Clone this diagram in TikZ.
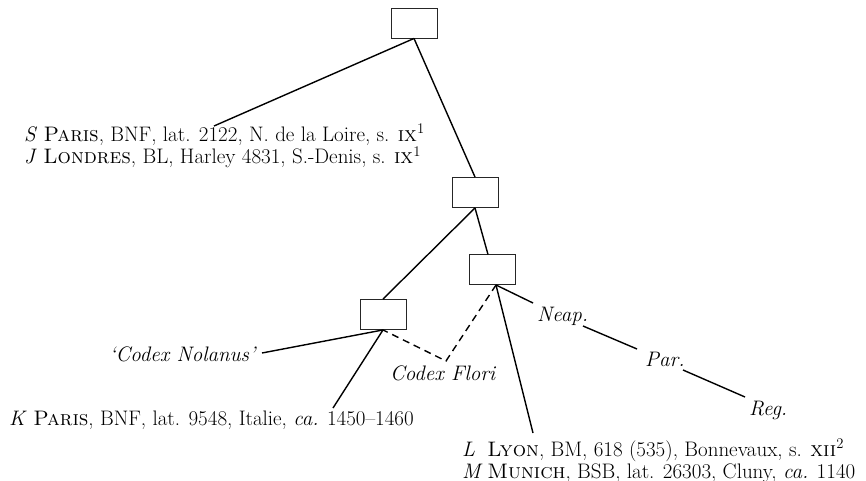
\documentclass[tikz,border=0pt]{standalone}
\usepackage{fontspec}
\begin{document}
\begin{tikzpicture}[x=1pt,y=-1pt,
  box/.style={draw=black!85, line width=0.9pt, minimum width=46pt, minimum height=30pt, inner sep=0pt},
  txt/.style={inner sep=0pt, font=\fontsize{21}{24}\selectfont},
  conn/.style={line width=1.4pt, black},
  dconn/.style={conn, dash pattern=on 7pt off 5pt}]
\useasboundingbox (0,0) rectangle (866,481);
% boxes
\node[box] (r) at (414,23) {};
\node[box] (a) at (475,192.5) {};
\node[box] (b) at (492.5,269.5) {};
\node[box] (c) at (383,314.5) {};
% texts
\node[txt, anchor=base west] (S) at (24,141.5) {\textit{S} \textsc{Paris}, BNF, lat. 2122, N. de la Loire, s. \textsc{ix}\textsuperscript{1}};
\node[txt, anchor=base west] (J) at (24,164) {\textit{J} \textsc{Londres}, BL, Harley 4831, S.-Denis, s. \textsc{ix}\textsuperscript{1}};
\node[txt, anchor=base west] (K) at (9,425) {\textit{K} \textsc{Paris}, BNF, lat. 9548, Italie, \textit{ca.} 1450--1460};
\node[txt, anchor=base east] (N) at (257,361.5) {\textit{`Codex Nolanus'}};
\node[txt, anchor=base west] (F) at (390,380) {\textit{Codex Flori}};
\node[txt, anchor=base west] (Ne) at (537,321.5) {\textit{Neap.}};
\node[txt, anchor=base west] (P) at (645,366.5) {\textit{Par.}};
\node[txt, anchor=base west] (R) at (749,415) {\textit{Reg.}};
\node[txt, anchor=base west] (L) at (462,456) {\makebox[1.2em][l]{\textit{L}}\textsc{Lyon}, BM, 618 (535), Bonnevaux, s. \textsc{xii}\textsuperscript{2}};
\node[txt, anchor=base west] (M) at (462,478) {\makebox[1.2em][l]{\textit{M}}\textsc{Munich}, BSB, lat. 26303, Cluny, \textit{ca.} 1140};
% connector ends
\coordinate (sEnd) at (214,126);
\coordinate (bTop) at (488,254.5);
\coordinate (bBot) at (496,285);
\coordinate (neS) at (533,303);
\coordinate (neE) at (583,326);
\coordinate (pS) at (637,349);
\coordinate (pE) at (683,370);
\coordinate (rS) at (745,397);
\coordinate (lEnd) at (533,433);
\coordinate (fV) at (446,361);
\coordinate (nEnd) at (262,353);
\coordinate (kEnd) at (333,408);
% connectors
\draw[conn] (r.south) -- (sEnd);
\draw[conn] (r.south) -- (a.north);
\draw[conn] (a.south) -- (bTop);
\draw[conn] (a.south) -- (c.north);
\draw[conn] (bBot) -- (neS);
\draw[conn] (neE) -- (pS);
\draw[conn] (pE) -- (rS);
\draw[conn] (bBot) -- (lEnd);
\draw[dconn] (bBot) -- (fV) -- (c.south);
\draw[conn] (c.south) -- (nEnd);
\draw[conn] (c.south) -- (kEnd);
\end{tikzpicture}
\end{document}
